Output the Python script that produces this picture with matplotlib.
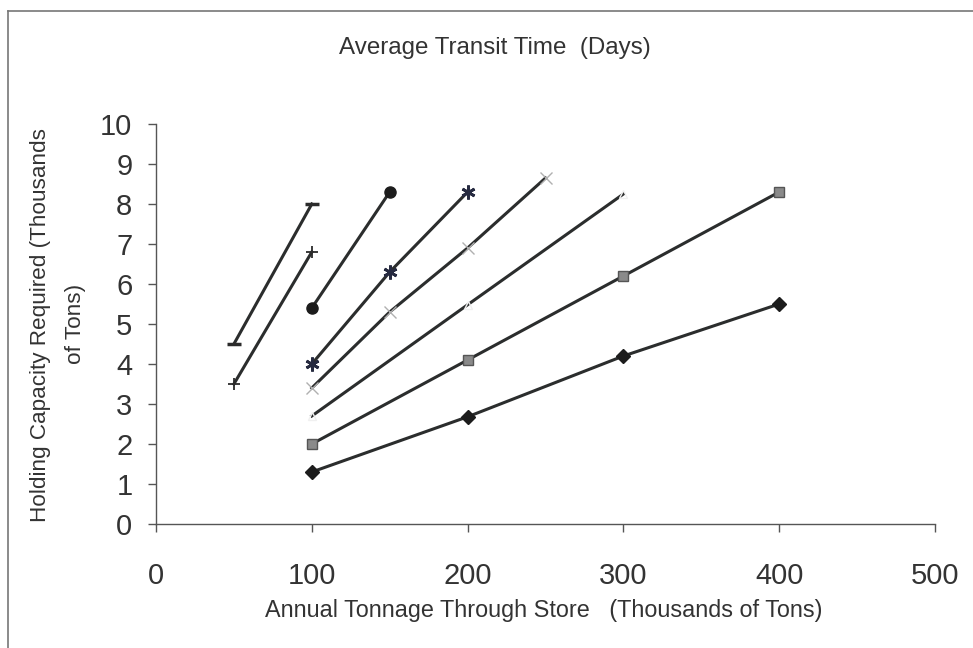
import matplotlib
matplotlib.use("Agg")
import matplotlib.pyplot as plt
from matplotlib.lines import Line2D

plt.rcParams['font.family'] = ['Liberation Sans', 'DejaVu Sans']

# Data (thousands of tons)
x_diamond = [100, 200, 300, 400]
y_diamond = [1.3, 2.68, 4.2, 5.5]
x_square = [100, 200, 300, 400]
y_square = [2.0, 4.1, 6.2, 8.3]
x_triangle = [100, 200, 300]
y_triangle = [2.7, 5.48, 8.25]
x_xmark = [100, 150, 200, 250]
y_xmark = [3.4, 5.3, 6.9, 8.65]
x_star = [100, 150, 200]
y_star = [4.0, 6.3, 8.3]
x_circle = [100, 150]
y_circle = [5.4, 8.3]
x_plus = [50, 100]
y_plus = [3.5, 6.8]
x_dash = [50, 100]
y_dash = [4.5, 8.0]

xticks = [0, 100, 200, 300, 400, 500]
yticks = list(range(0, 11))

title = "Average Transit Time  (Days)"
xlabel = "Annual Tonnage Through Store   (Thousands of Tons)"
ylabel1 = "Holding Capacity Required (Thousands"
ylabel2 = "of Tons)"

W, H = 973, 648
fig = plt.figure(figsize=(W / 100, H / 100), dpi=100)
ax = fig.add_axes([156 / W, 1 - 524 / H, (935 - 156) / W, (524 - 124) / H])

lc = '#2b2d2d'
lw = 2.2
ax.plot(x_diamond, y_diamond, color=lc, lw=lw, marker='D', ms=7, mfc='#1c1c1c', mec='#1c1c1c')
ax.plot(x_square, y_square, color=lc, lw=lw, marker='s', ms=7, mfc='#8a8a8a', mec='#555555')
ax.plot(x_triangle, y_triangle, color=lc, lw=lw, marker='^', ms=6, mfc='none', mec='#f0f0f0')
ax.plot(x_xmark, y_xmark, color=lc, lw=lw, marker='x', ms=8, mew=1.0, mec='#b0b0b0')
ax.plot(x_star, y_star, color=lc, lw=lw, marker=(6, 2, 0), ms=10, mew=2.0, mec='#262a40')
ax.plot(x_circle, y_circle, color=lc, lw=lw, marker='o', ms=8, mfc='#1c1c1c', mec='#1c1c1c')
ax.plot(x_plus, y_plus, color=lc, lw=lw, marker='+', ms=9, mew=1.3, mec='#2b2b2b')
ax.plot(x_dash, y_dash, color=lc, lw=lw, marker='_', ms=10, mew=2.5, mec='#2b2b2b')

ax.set_xlim(0, 500)
ax.set_ylim(0, 10)
ax.set_xticks(xticks)
ax.set_yticks(yticks)
ax.set_xticklabels([str(v) for v in xticks])
ax.set_yticklabels([str(v) for v in yticks])
for s in ['top', 'right']:
    ax.spines[s].set_visible(False)
for s in ['left', 'bottom']:
    ax.spines[s].set_color('#555555')
    ax.spines[s].set_linewidth(1.0)
ax.tick_params(axis='x', direction='out', length=6, width=1, color='#555555',
               pad=21, labelsize=21, labelcolor='#333333')
ax.tick_params(axis='y', direction='out', length=6, width=1, color='#555555',
               pad=11, labelsize=21, labelcolor='#333333')

fig.text(495 / W, 1 - 48 / H, title, ha='center', va='center', fontsize=17.4, color='#333333')
fig.text(544 / W, 1 - 611 / H, xlabel, ha='center', va='center', fontsize=16.8, color='#333333')
fig.text(41 / W, 1 - 325 / H, ylabel1, ha='center', va='center', rotation=90, fontsize=16.2, color='#333333')
fig.text(75 / W, 1 - 324 / H, ylabel2, ha='center', va='center', rotation=90, fontsize=16.2, color='#333333')

# chart frame (left and top edges visible)
fig.add_artist(Line2D([8 / W, 8 / W], [0, 1 - 11 / H], transform=fig.transFigure, color='#777777', lw=1.2))
fig.add_artist(Line2D([8 / W, 1], [1 - 11 / H, 1 - 11 / H], transform=fig.transFigure, color='#777777', lw=1.2))

fig.savefig('out.png', dpi=100)
